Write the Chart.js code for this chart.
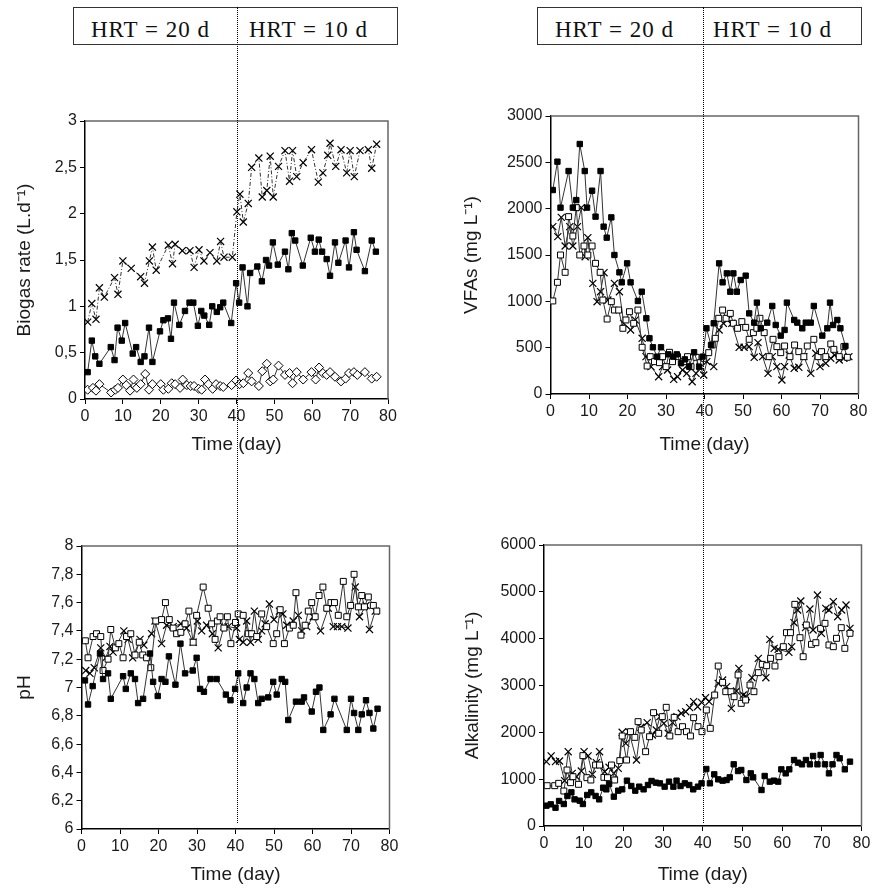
<!DOCTYPE html>
<html lang="en">
<head>
<meta charset="UTF-8">
<title>Biogas, VFAs, pH and alkalinity vs time</title>
<script src="https://cdn.jsdelivr.net/npm/chart.js"></script>
<style>
  body { margin: 0; background: #fff; }
  #page { position: relative; width: 880px; height: 890px; overflow: hidden; }
  #page canvas { position: absolute; }
  .hrt { position: absolute; top: 7px; width: 325px; height: 38px; box-sizing: border-box;
         border: 1.5px solid #333; font-family: 'Liberation Serif', 'Times New Roman', serif;
         font-size: 23px; line-height: 23px; letter-spacing: 1px; color: #111; }
  .hrt span { position: absolute; top: 10px; white-space: nowrap; }
  .split { position: absolute; width: 0; border-left: 1px dotted #000; }
</style>
</head>
<body>
<div id="page">
  <canvas id="c1" width="420" height="360" style="left:0;top:100px"></canvas>
  <canvas id="c2" width="440" height="360" style="left:440px;top:100px"></canvas>
  <canvas id="c3" width="420" height="430" style="left:0;top:460px"></canvas>
  <canvas id="c4" width="440" height="430" style="left:440px;top:460px"></canvas>
  <div class="hrt" style="left:73px"><span style="left:17px">HRT = 20 d</span><span style="left:175px">HRT = 10 d</span></div>
  <div class="hrt" style="left:537px"><span style="left:17px">HRT = 20 d</span><span style="left:175px">HRT = 10 d</span></div>
</div>
<script>
// ---- data (day, value) ----
const xTicks = [0, 10, 20, 30, 40, 50, 60, 70, 80];
const hrtSwitchDay = 40;

// Biogas rate (L/d)
const bioCrossDay = [0.7,1.8,2.9,3.8,5.1,7.8,8.7,10.0,12.2,14.7,15.7,17.0,17.8,18.8,22.0,23.1,23.8,25.7,27.7,28.8,30.1,31.4,33.0,34.8,35.8,36.7,38.9,40.1,40.9,41.8,43.1,44.0,45.9,46.8,48.0,48.9,49.7,51.1,52.8,54.0,54.8,55.9,57.6,59.8,61.6,62.8,64.1,64.7,66.2,67.6,69.1,70.0,71.1,72.6,74.8,75.7,77.0];
const bioCrossVal = [0.83,1.03,0.86,1.20,1.10,1.31,1.13,1.49,1.41,1.32,1.25,1.49,1.64,1.39,1.66,1.46,1.67,1.60,1.60,1.42,1.61,1.49,1.58,1.49,1.70,1.53,1.53,2.02,2.21,1.91,2.11,2.50,2.60,2.18,2.25,2.62,2.18,2.51,2.68,2.35,2.68,2.40,2.55,2.69,2.34,2.44,2.63,2.76,2.51,2.69,2.44,2.68,2.40,2.68,2.69,2.49,2.75];
const bioSqDay = [0.7,1.8,2.7,3.8,6.8,7.8,8.6,9.7,10.6,12.6,13.5,14.7,15.7,16.9,17.8,19.8,20.7,21.9,22.7,23.5,24.9,26.4,27.6,28.6,29.8,30.7,31.5,32.8,33.6,34.8,35.7,36.5,38.6,39.9,40.7,41.6,42.9,43.6,45.5,46.7,47.8,48.6,49.6,50.9,52.8,53.7,54.6,55.5,57.5,59.6,60.7,61.7,62.6,63.8,64.7,66.0,66.9,68.8,69.7,71.0,71.7,73.9,75.7,76.8];
const bioSqVal = [0.29,0.63,0.46,0.38,0.56,0.42,0.77,0.63,0.82,0.49,0.56,0.40,0.46,0.77,0.40,0.73,0.85,0.87,0.65,1.04,0.80,0.95,1.04,1.04,0.79,0.95,0.90,0.80,1.00,0.94,0.99,1.04,0.82,1.25,1.04,1.42,1.00,1.36,1.43,1.27,1.50,1.44,1.69,1.45,1.59,1.40,1.79,1.71,1.44,1.74,1.59,1.72,1.59,1.51,1.33,1.69,1.47,1.71,1.42,1.80,1.61,1.38,1.71,1.59];
const bioDiaDay = [0.7,2.1,2.9,3.8,6.9,8.0,8.7,10.0,10.9,11.9,12.8,13.7,14.7,15.9,16.9,17.8,20.0,20.7,22.0,22.9,23.8,25.1,25.8,26.9,27.9,28.8,30.0,30.8,31.7,32.6,33.7,34.6,35.7,36.5,38.7,39.9,40.8,41.8,43.1,44.0,45.9,46.8,48.0,48.9,49.7,51.1,52.8,54.0,54.8,55.9,57.6,59.8,60.9,61.8,62.8,63.8,64.7,66.0,67.6,68.8,69.7,71.0,71.9,73.9,75.7,77.0];
const bioDiaVal = [0.10,0.12,0.09,0.16,0.07,0.10,0.12,0.21,0.15,0.09,0.21,0.12,0.16,0.27,0.10,0.16,0.16,0.10,0.11,0.17,0.16,0.12,0.21,0.15,0.14,0.14,0.11,0.10,0.21,0.16,0.11,0.16,0.14,0.13,0.15,0.20,0.16,0.17,0.28,0.19,0.14,0.30,0.38,0.19,0.21,0.36,0.26,0.28,0.17,0.29,0.21,0.29,0.21,0.34,0.28,0.26,0.29,0.24,0.19,0.22,0.28,0.29,0.26,0.29,0.22,0.24];

// VFAs (mg/L)
const vfaSqDay = [0.6,1.8,2.6,4.7,5.8,6.7,7.6,8.9,9.5,10.8,11.7,13.0,13.8,14.6,15.8,16.6,17.9,18.5,19.9,20.8,22.7,23.7,24.9,25.7,26.6,27.7,28.7,30.6,31.9,32.8,33.9,34.9,36.0,37.3,38.6,39.5,40.5,41.7,42.4,43.8,44.7,45.8,46.7,47.5,48.4,49.4,50.7,51.6,52.9,53.6,54.6,56.3,57.6,58.5,59.8,60.8,61.4,63.3,64.1,65.4,66.3,67.6,68.4,70.6,71.9,72.6,73.4,74.5,75.3,76.6];
const vfaSqVal = [2201,2507,2011,2406,2011,2093,2698,2406,2011,2194,1914,2406,1806,1687,1906,1500,1313,1205,1410,1205,1004,1104,817,601,504,403,504,428,403,428,331,374,295,450,295,403,709,529,763,1410,1205,1302,1104,1302,1104,1230,1277,870,770,986,709,770,950,745,630,691,986,799,770,709,770,770,950,630,709,986,745,799,709,518];
const vfaOpenDay = [0.6,1.8,2.6,3.8,4.7,5.8,6.7,7.6,8.7,9.7,10.8,11.7,12.9,13.6,14.7,15.8,16.6,17.7,18.8,19.6,20.5,21.6,22.7,23.8,25.1,25.9,27.0,28.3,29.1,30.0,30.9,31.7,33.0,34.6,35.6,36.5,37.8,38.9,39.8,41.1,42.0,42.8,43.7,44.7,45.6,46.7,47.5,48.6,49.7,50.7,51.6,52.7,53.6,54.4,55.5,56.8,57.8,58.8,59.8,60.8,62.2,63.4,64.5,65.8,66.7,68.4,69.5,70.4,71.5,72.8,73.6,75.0,76.2,77.1];
const vfaOpenVal = [1004,1205,1500,1313,1914,1705,2011,1500,1597,1500,1597,1410,1313,1014,809,996,906,906,709,799,888,763,906,504,302,403,349,338,403,295,450,349,403,349,403,295,396,338,385,446,529,601,817,906,817,870,763,709,781,719,590,662,709,817,662,403,590,511,446,518,403,529,457,403,518,590,403,457,403,540,482,403,511,396];
const vfaCrossDay = [0.6,1.9,2.8,3.8,5.0,5.8,7.0,8.0,9.0,9.7,11.0,12.1,13.0,13.9,14.9,16.6,17.9,19.0,20.8,22.0,23.8,24.8,26.1,28.1,29.1,30.4,32.0,33.0,34.3,35.4,36.8,37.8,38.9,39.8,40.6,42.4,43.8,44.9,45.9,47.1,49.0,50.3,51.6,52.9,53.9,55.1,56.5,57.6,58.8,60.1,60.8,62.0,63.3,64.5,65.8,67.6,68.9,70.0,71.5,72.8,73.8,75.0,76.2,77.5];
const vfaCrossVal = [1806,1698,1906,1597,1806,1597,1806,2011,1482,1687,1194,996,1104,1309,1014,1194,1104,763,691,799,601,403,295,187,295,259,158,187,259,223,133,223,295,205,349,295,691,763,799,763,504,504,511,396,554,403,223,403,295,151,295,421,277,288,403,223,439,295,331,385,421,367,385,403];

// pH
const phOpenDay = [1.0,1.7,3.0,3.9,5.0,5.6,6.9,7.6,8.8,9.7,10.8,11.7,12.8,13.9,15.0,15.9,16.9,18.0,19.3,20.8,21.8,22.8,23.8,24.7,25.8,26.9,27.9,29.0,29.9,31.6,32.9,33.8,34.7,35.3,36.0,37.0,37.9,38.8,40.0,40.7,42.0,43.3,44.2,45.5,46.8,48.1,49.8,50.7,51.6,52.7,54.0,55.0,55.7,57.0,58.1,58.9,59.8,60.7,61.7,62.7,63.7,64.8,65.7,66.7,68.0,68.9,69.9,70.8,71.9,72.8,73.5,74.5,75.8,76.7];
const phOpenVal = [7.33,7.21,7.36,7.38,7.36,7.12,7.20,7.41,7.28,7.31,7.21,7.36,7.38,7.23,7.32,7.23,7.21,7.14,7.47,7.48,7.60,7.48,7.42,7.38,7.39,7.45,7.54,7.32,7.51,7.71,7.56,7.45,7.34,7.47,7.50,7.42,7.50,7.31,7.46,7.52,7.51,7.38,7.38,7.36,7.52,7.43,7.31,7.38,7.55,7.31,7.42,7.44,7.67,7.37,7.44,7.54,7.60,7.50,7.65,7.71,7.56,7.60,7.60,7.51,7.75,7.50,7.58,7.80,7.57,7.65,7.57,7.64,7.58,7.54];
const phCrossDay = [1.1,2.2,3.3,5.0,6.3,7.4,8.2,11.0,12.1,13.3,15.2,16.2,18.2,19.1,20.8,22.1,23.8,25.8,27.3,29.0,30.1,31.2,32.5,34.0,35.5,37.0,38.1,40.3,41.0,42.0,42.9,43.9,44.9,45.9,46.8,47.7,48.8,50.0,51.4,52.3,53.3,55.0,56.3,57.2,58.5,60.2,62.1,64.1,65.4,66.5,67.6,69.2,71.1,72.2,73.9,74.8,76.3];
const phCrossVal = [7.12,7.10,7.14,7.28,7.21,7.29,7.25,7.40,7.34,7.21,7.34,7.30,7.38,7.47,7.31,7.44,7.43,7.45,7.42,7.32,7.47,7.40,7.44,7.38,7.28,7.43,7.43,7.42,7.34,7.32,7.47,7.32,7.54,7.34,7.40,7.45,7.59,7.48,7.54,7.52,7.44,7.47,7.51,7.40,7.43,7.50,7.40,7.56,7.43,7.43,7.43,7.42,7.71,7.50,7.58,7.41,7.54];
const phSqDay = [0.9,1.7,2.9,4.8,5.6,6.9,7.6,10.8,11.5,12.8,13.9,14.7,16.0,17.8,18.6,19.8,20.8,21.8,22.7,24.4,25.7,26.9,28.9,29.9,30.8,31.8,33.5,35.1,37.5,38.7,39.9,40.7,42.0,42.9,43.9,44.9,45.9,46.8,48.5,49.8,50.7,52.0,52.9,53.7,55.7,57.2,57.8,59.8,60.9,61.8,62.8,64.7,65.7,68.9,70.0,70.8,71.9,72.8,73.9,74.8,75.8,76.9];
const phSqVal = [7.05,6.88,7.01,7.24,7.06,7.10,6.92,7.08,6.99,7.10,7.06,6.89,6.92,7.24,7.04,6.94,7.06,7.04,7.22,7.02,7.31,7.10,7.12,7.21,6.99,6.97,7.06,7.06,6.95,6.91,6.99,7.10,6.89,7.00,7.10,7.06,6.89,6.92,6.93,7.04,6.95,7.06,7.04,6.77,6.90,6.90,6.93,6.83,6.97,7.00,6.70,6.81,6.92,6.70,6.92,6.82,6.70,6.81,6.91,6.82,6.71,6.85];

// Alkalinity (mg/L)
const alkSqDay = [0.6,1.7,2.9,3.8,5.0,5.9,6.9,7.7,9.0,9.8,10.9,11.9,13.0,13.9,14.9,15.7,16.4,17.6,18.7,19.7,20.9,22.0,23.0,24.0,25.1,26.2,27.1,28.2,29.2,30.4,31.5,32.6,33.4,34.4,35.5,36.6,37.6,38.8,39.7,40.9,41.8,42.9,43.9,45.0,46.0,46.8,47.8,48.9,49.7,51.0,52.1,52.7,54.8,55.6,56.9,57.9,59.0,59.8,60.9,61.8,63.0,64.0,65.0,66.0,67.0,67.8,68.9,69.7,70.8,71.8,72.7,73.7,74.5,75.8,77.1];
const alkSqVal = [434,463,391,534,470,641,719,569,541,470,662,719,641,569,818,783,897,626,754,783,968,854,754,840,783,875,961,925,911,840,947,840,968,854,911,875,783,840,911,1217,911,1103,996,968,982,1039,1317,1174,1196,982,1124,1039,769,1068,947,968,947,1210,1124,1210,1409,1352,1317,1409,1317,1495,1317,1516,1317,1124,1317,1516,1445,1210,1374];
const alkOpenDay = [0.8,2.7,3.7,5.0,5.8,6.7,7.3,8.7,9.8,10.8,11.8,13.0,14.0,15.1,16.0,17.0,17.8,19.1,19.7,20.8,21.8,22.9,23.7,24.5,25.6,26.6,27.6,28.9,29.8,30.8,31.7,32.8,33.8,34.9,35.9,36.9,37.7,38.8,39.8,40.9,41.9,43.0,43.9,45.0,45.8,47.1,47.9,48.9,49.7,50.8,51.9,52.9,54.0,55.0,56.1,57.1,58.2,59.2,60.3,61.1,62.1,63.2,64.5,65.3,66.1,67.4,68.5,69.7,70.8,71.8,72.9,73.7,74.9,75.8,77.1];
const alkOpenVal = [861,861,911,747,1196,925,1053,890,1502,1032,982,1302,1302,1039,1032,1302,982,1395,1922,1409,2014,1893,2228,2050,1587,1907,2420,1979,2335,2534,1922,2320,2014,2121,2014,1922,2313,2121,2014,2477,2085,2797,3416,3067,2868,2868,2761,3224,2619,2690,3010,2868,3274,3452,3423,3580,3416,3615,3829,4128,4128,4733,4021,3615,4292,3879,3914,4220,4327,3865,3829,4007,4235,3793,4114];
const alkCrossDay = [0.6,1.8,2.9,3.9,5.2,6.1,7.1,8.2,9.4,10.1,11.1,12.2,13.2,14.0,15.3,16.4,17.6,18.7,19.7,20.6,21.4,23.3,24.4,26.0,27.3,28.3,29.2,30.2,31.3,32.4,33.5,34.6,35.7,36.7,37.7,38.7,39.7,40.7,41.6,43.9,45.0,46.0,47.2,48.5,49.1,50.2,51.0,52.4,54.0,55.9,56.9,58.0,59.0,61.7,62.4,63.0,63.9,64.7,65.9,67.0,67.8,68.9,69.9,71.0,71.8,72.9,74.0,75.0,76.1,77.1];
const alkCrossVal = [1374,1495,1374,1388,968,1587,1124,1053,1174,1587,1495,1103,1352,1587,1160,1253,1124,1231,2000,1765,2014,1409,2107,2207,1943,2050,2335,2192,1979,2207,2335,2406,2441,2527,2655,2548,2640,2740,2655,3046,3117,2975,2512,2882,3366,2797,2761,3167,3580,3167,3985,3793,3772,3708,3829,4341,4612,4804,4235,4633,4185,4932,4114,4647,4612,4790,4469,4612,4719,4220];

// ---- helpers ----
const FONT = "'Liberation Sans', Arial, Helvetica, sans-serif";
const INK = '#1a1a1a';

function pts(days, vals) {
  return days.map((d, i) => ({ x: d, y: vals[i] }));
}
function commaTick(v) {
  const r = Math.round(v * 10) / 10;
  return Number.isInteger(r) ? String(r) : r.toFixed(1).replace('.', ',');
}

// marker looks
const filledSq = { pointStyle: 'rect', pointRadius: 3.8, pointBackgroundColor: '#000', pointBorderColor: '#000', pointBorderWidth: 1 };
const openSq = { pointStyle: 'rect', pointRadius: 4.2, pointBackgroundColor: '#fff', pointBorderColor: '#000', pointBorderWidth: 1 };
const crossMk = { pointStyle: 'crossRot', pointRadius: 5, pointBorderColor: '#000', pointBorderWidth: 1.2 };
const diamondMk = { pointStyle: 'rectRot', pointRadius: 4.5, pointBackgroundColor: '#fff', pointBorderColor: '#000', pointBorderWidth: 1 };

function series(days, vals, marker, extra) {
  return Object.assign({
    data: pts(days, vals),
    borderColor: '#333',
    borderWidth: 1,
    tension: 0,
    pointHoverRadius: 0
  }, marker, extra || {});
}

// top and right edges of the plot frame
const framePlugin = {
  id: 'frame',
  afterDraw(chart) {
    const { ctx, chartArea: a } = chart;
    ctx.save();
    ctx.strokeStyle = '#666';
    ctx.lineWidth = 1.5;
    ctx.beginPath();
    ctx.moveTo(a.left, a.top);
    ctx.lineTo(a.right, a.top);
    ctx.lineTo(a.right, a.bottom);
    ctx.stroke();
    ctx.restore();
  }
};

// box: canvas placement on the page, area: wanted plot area on the page
function panel(id, box, area, yCfg, datasets) {
  return new Chart(document.getElementById(id), {
    type: 'line',
    data: { datasets },
    plugins: [framePlugin],
    options: {
      responsive: false,
      animation: false,
      events: [],
      layout: {
        padding: { left: 0, top: area.top - box.top, right: box.left + box.width - area.right, bottom: 0 }
      },
      plugins: { legend: { display: false }, tooltip: { enabled: false } },
      scales: {
        x: {
          type: 'linear', min: 0, max: 80,
          afterFit(s) { s.height = box.top + box.height - area.bottom; },
          afterBuildTicks(s) { s.ticks = xTicks.map(v => ({ value: v })); },
          ticks: { font: { family: FONT, size: 16 }, color: INK, padding: 3, maxRotation: 0 },
          grid: { drawOnChartArea: false, drawTicks: true, tickLength: 5, color: '#000', lineWidth: 1 },
          border: { color: '#000', width: 1.5 },
          title: { display: true, text: 'Time (day)', color: INK,
                   font: { family: FONT, size: 19 }, padding: { top: 0, bottom: 3.6 } }
        },
        y: {
          min: yCfg.min, max: yCfg.max,
          afterFit(s) { s.width = area.left - box.left; },
          ticks: { stepSize: yCfg.step, autoSkip: false, callback: commaTick,
                   font: { family: FONT, size: 16 }, color: INK, padding: 3 },
          grid: { drawOnChartArea: false, drawTicks: true, tickLength: 5, color: '#000', lineWidth: 1 },
          border: { color: '#000', width: 1.5 },
          title: { display: true, text: yCfg.title, color: INK,
                   font: { family: FONT, size: 19 }, padding: { top: yCfg.titleCenter - 11.4, bottom: 0 } }
        }
      }
    }
  });
}

const c1 = panel('c1',
  { left: 0, top: 100, width: 420, height: 360 },
  { left: 85, top: 121, right: 388, bottom: 399 },
  { min: 0, max: 3, step: 0.5, title: 'Biogas rate (L.d\u207B\u00B9)', titleCenter: 25 },
  [
    series(bioSqDay, bioSqVal, filledSq),
    series(bioDiaDay, bioDiaVal, diamondMk),
    series(bioCrossDay, bioCrossVal, crossMk, { borderDash: [4, 2, 1, 2] })
  ]);

const c2 = panel('c2',
  { left: 440, top: 100, width: 440, height: 360 },
  { left: 550.5, top: 116, right: 858.5, bottom: 394 },
  { min: 0, max: 3000, step: 500, title: 'VFAs (mg L\u207B\u00B9)', titleCenter: 32 },
  [
    series(vfaSqDay, vfaSqVal, filledSq),
    series(vfaOpenDay, vfaOpenVal, openSq),
    series(vfaCrossDay, vfaCrossVal, crossMk)
  ]);

const c3 = panel('c3',
  { left: 0, top: 460, width: 420, height: 430 },
  { left: 81.5, top: 546, right: 389.5, bottom: 829 },
  { min: 6, max: 8, step: 0.2, title: 'pH', titleCenter: 25 },
  [
    series(phSqDay, phSqVal, filledSq),
    series(phOpenDay, phOpenVal, openSq),
    series(phCrossDay, phCrossVal, crossMk)
  ]);

const c4 = panel('c4',
  { left: 440, top: 460, width: 440, height: 430 },
  { left: 544, top: 545, right: 861.5, bottom: 826 },
  { min: 0, max: 6000, step: 1000, title: 'Alkalinity (mg L\u207B\u00B9)', titleCenter: 33 },
  [
    series(alkSqDay, alkSqVal, filledSq),
    series(alkOpenDay, alkOpenVal, openSq),
    series(alkCrossDay, alkCrossVal, crossMk)
  ]);

// dotted line marking the HRT change, placed from the x scale of each column
function addSplit(chart, offsetX) {
  const x = offsetX + chart.scales.x.getPixelForValue(hrtSwitchDay);
  const d = document.createElement('div');
  d.className = 'split';
  d.style.left = Math.round(x) + 'px';
  d.style.top = '7px';
  d.style.height = (823 - 7) + 'px';
  document.getElementById('page').appendChild(d);
}
addSplit(c1, 0);
addSplit(c4, 440);
</script>
</body>
</html>
